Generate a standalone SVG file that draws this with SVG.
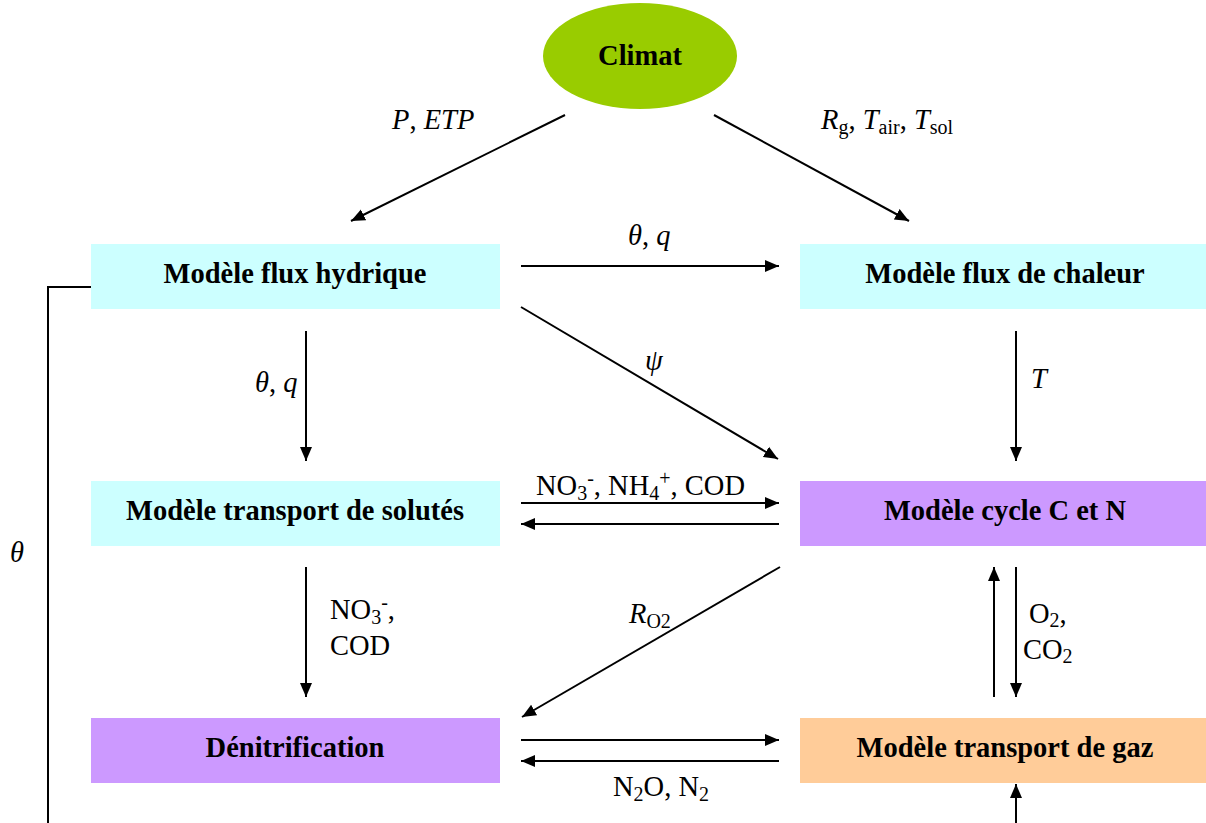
<svg xmlns="http://www.w3.org/2000/svg" width="1206" height="823" viewBox="0 0 1206 823">
<style>
.t{font-family:"Liberation Serif","Times New Roman",serif;font-size:28.5px;fill:#000}
.b{font-weight:bold;text-anchor:middle}
.i{font-style:italic}
.s{font-size:20px}
.ln{stroke:#000;stroke-width:2;fill:none}
.a{marker-end:url(#ah)}
</style>
<defs>
<marker id="ah" markerUnits="userSpaceOnUse" markerWidth="15" markerHeight="14" refX="14" refY="6" orient="auto" viewBox="0 0 15 12">
<path d="M0,0 L14,6 L0,12 z" fill="#000"/>
</marker>
</defs>
<rect width="1206" height="823" fill="#fff"/>
<g id="climat"><ellipse cx="640" cy="56" rx="97" ry="53" fill="#99CC00"/><text class="t b" x="640" y="65">Climat</text></g>
<g id="hydrique"><rect x="91" y="244" width="409" height="65" fill="#CCFFFF"/><text class="t b" x="295" y="283">Modèle flux hydrique</text></g>
<g id="chaleur"><rect x="800" y="244" width="406" height="65" fill="#CCFFFF"/><text class="t b" x="1005" y="283">Modèle flux de chaleur</text></g>
<g id="solutes"><rect x="91" y="481" width="409" height="65" fill="#CCFFFF"/><text class="t b" x="295" y="520">Modèle transport de solutés</text></g>
<g id="cycle"><rect x="800" y="481" width="406" height="65" fill="#CC99FF"/><text class="t b" x="1005" y="520">Modèle cycle C et N</text></g>
<g id="denitr"><rect x="91" y="718" width="409" height="65" fill="#CC99FF"/><text class="t b" x="295" y="757">Dénitrification</text></g>
<g id="gaz"><rect x="800" y="718" width="406" height="65" fill="#FFCC99"/><text class="t b" x="1005" y="757">Modèle transport de gaz</text></g>
<g id="connectors">
<line class="ln a" x1="565" y1="115" x2="351" y2="221"/>
<line class="ln a" x1="714" y1="115" x2="909" y2="221"/>
<line class="ln a" x1="521" y1="266" x2="779" y2="266"/>
<line class="ln a" x1="521" y1="307" x2="778" y2="459"/>
<line class="ln a" x1="306" y1="331" x2="306" y2="461"/>
<line class="ln a" x1="1016" y1="331" x2="1016" y2="461"/>
<line class="ln a" x1="521" y1="503" x2="779" y2="503"/>
<line class="ln a" x1="779" y1="524" x2="521" y2="524"/>
<line class="ln a" x1="306" y1="567" x2="306" y2="697"/>
<line class="ln a" x1="780" y1="567" x2="522" y2="717"/>
<line class="ln a" x1="994" y1="697" x2="994" y2="567"/>
<line class="ln a" x1="1016" y1="567" x2="1016" y2="697"/>
<line class="ln a" x1="521" y1="740" x2="779" y2="740"/>
<line class="ln a" x1="779" y1="761" x2="521" y2="761"/>
<line class="ln a" x1="1016" y1="823" x2="1016" y2="784"/>
<polyline class="ln" points="91,287 48,287 48,823"/>
</g>
<g id="labels">
<text class="t" x="392" y="129"><tspan class="i">P</tspan>, <tspan class="i">ETP</tspan></text>
<text class="t" x="821" y="129"><tspan class="i">R</tspan><tspan class="s" dy="5">g</tspan><tspan dy="-5">, </tspan><tspan class="i">T</tspan><tspan class="s" dy="5">air</tspan><tspan dy="-5">, </tspan><tspan class="i">T</tspan><tspan class="s" dy="5">sol</tspan></text>
<text class="t" x="628" y="245"><tspan class="i">θ</tspan>, <tspan class="i">q</tspan></text>
<text class="t i" x="645" y="370">ψ</text>
<text class="t" x="255" y="392"><tspan class="i">θ</tspan>, <tspan class="i">q</tspan></text>
<text class="t i" x="1031" y="388">T</text>
<text class="t" x="536" y="495">NO<tspan class="s" dy="5">3</tspan><tspan class="s" dy="-15">-</tspan><tspan dy="10">, NH</tspan><tspan class="s" dy="5">4</tspan><tspan class="s" dy="-15">+</tspan><tspan dy="10">, COD</tspan></text>
<text class="t" x="330" y="619">NO<tspan class="s" dy="5">3</tspan><tspan class="s" dy="-15">-</tspan><tspan dy="10">,</tspan></text>
<text class="t" x="330" y="655">COD</text>
<text class="t" x="629" y="623"><tspan class="i">R</tspan><tspan class="s" dy="5">O2</tspan></text>
<text class="t" x="1029" y="623">O<tspan class="s" dy="4">2</tspan><tspan dy="-4">,</tspan></text>
<text class="t" x="1023" y="659">CO<tspan class="s" dy="4">2</tspan></text>
<text class="t" x="613" y="796">N<tspan class="s" dy="5">2</tspan><tspan dy="-5">O, N</tspan><tspan class="s" dy="5">2</tspan></text>
<text class="t i" x="10" y="562">θ</text>
</g>
</svg>
